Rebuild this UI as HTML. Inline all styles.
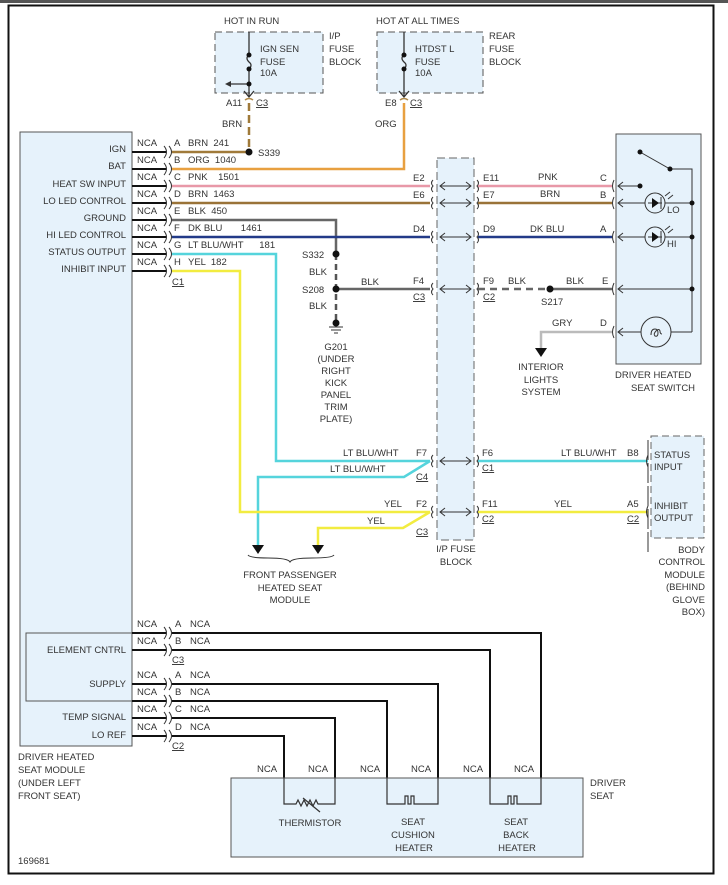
<!DOCTYPE html>
<html><head><meta charset="utf-8"><style>
html,body{margin:0;padding:0;background:#fff;}
svg{display:block;font-family:"Liberation Sans",Arial,sans-serif;font-size:9.5px;fill:#333;}
text{fill:#333;white-space:pre;}
</style></head><body>
<svg width="728" height="885" viewBox="0 0 728 885" xmlns="http://www.w3.org/2000/svg">
<rect x="0" y="0" width="728" height="3" fill="#555"/>
<rect x="8.5" y="5.5" width="705" height="868" fill="none" stroke="#111" stroke-width="2"/>

<!-- fuse blocks top -->
<rect x="215" y="32" width="108" height="61" fill="#e6f2fb" stroke="#555" stroke-dasharray="7,4"/>
<rect x="377" y="32" width="106" height="61" fill="#e6f2fb" stroke="#555" stroke-dasharray="7,4"/>
<text x="224" y="24">HOT IN RUN</text>
<text x="376" y="24">HOT AT ALL TIMES</text>
<text x="329" y="39">I/P</text><text x="329" y="52">FUSE</text><text x="329" y="65">BLOCK</text>
<text x="489" y="39">REAR</text><text x="489" y="52">FUSE</text><text x="489" y="65">BLOCK</text>
<text x="260" y="52">IGN SEN</text><text x="260" y="65">FUSE</text><text x="260" y="76">10A</text>
<text x="415" y="52">HTDST L</text><text x="415" y="65">FUSE</text><text x="415" y="76">10A</text>
<g stroke="#333" stroke-width="1.3" fill="none">
<path d="M249 32V55 M249 69V96 M249 55q-4 3 0 7q4 3 0 7"/>
<path d="M404 32V55 M404 69V96 M404 55q-4 3 0 7q4 3 0 7"/>
<path d="M249 84H230"/>
<path d="M244 91l5 6l5-6 M399 91l5 6l5-6"/>
</g>
<path d="M225 84l6-3v6z" fill="#333"/>
<g fill="#111"><circle cx="249" cy="55" r="2.5"/><circle cx="249" cy="69" r="2.5"/><circle cx="249" cy="84" r="2.5"/><circle cx="404" cy="55" r="2.5"/><circle cx="404" cy="69" r="2.5"/></g>
<path d="M245 100q4 -3 8 0 M400 100q4 -3 8 0" stroke="#b08a4a" stroke-width="1.5" fill="none"/>
<text x="226" y="106">A11</text><text x="256" y="106" text-decoration="underline">C3</text>
<text x="385" y="106">E8</text><text x="410" y="106" text-decoration="underline">C3</text>
<text x="222" y="127">BRN</text><text x="375" y="127">ORG</text>

<!-- module box -->
<rect x="20" y="132" width="112" height="614" fill="#e6f2fb" stroke="#555"/>
<rect x="26" y="633" width="106" height="68" fill="#e6f2fb" stroke="#555"/>
<g text-anchor="end">
<text x="126" y="152">IGN</text><text x="126" y="169">BAT</text><text x="126" y="187">HEAT SW INPUT</text>
<text x="126" y="204">LO LED CONTROL</text><text x="126" y="221">GROUND</text><text x="126" y="238">HI LED CONTROL</text>
<text x="126" y="255">STATUS OUTPUT</text><text x="126" y="272">INHIBIT INPUT</text>
<text x="126" y="653">ELEMENT CNTRL</text><text x="126" y="687">SUPPLY</text>
<text x="126" y="720">TEMP SIGNAL</text><text x="126" y="738">LO REF</text>
</g>
<text x="18" y="760">DRIVER HEATED</text><text x="18" y="773">SEAT MODULE</text><text x="18" y="786">(UNDER LEFT</text><text x="18" y="799">FRONT SEAT)</text>
<text x="18" y="864">169681</text>

<!-- top connector rows -->
<g stroke="#111" stroke-width="2">
<path d="M132 152H166M132 169H166M132 186H166M132 203H166M132 220H166M132 237H166M132 254H166M132 271H166"/>
</g>
<g stroke="#333" stroke-width="1" fill="none">
<path d="M164 146q5 6 0 12M169 146q5 6 0 12M164 163q5 6 0 12M169 163q5 6 0 12M164 180q5 6 0 12M169 180q5 6 0 12M164 197q5 6 0 12M169 197q5 6 0 12M164 214q5 6 0 12M169 214q5 6 0 12M164 231q5 6 0 12M169 231q5 6 0 12M164 248q5 6 0 12M169 248q5 6 0 12M164 265q5 6 0 12M169 265q5 6 0 12"/>
</g>
<g>
<text x="137" y="146">NCA</text><text x="137" y="163">NCA</text><text x="137" y="180">NCA</text><text x="137" y="197">NCA</text>
<text x="137" y="214">NCA</text><text x="137" y="231">NCA</text><text x="137" y="248">NCA</text><text x="137" y="265">NCA</text>
<text x="174" y="146">A</text><text x="174" y="163">B</text><text x="174" y="180">C</text><text x="174" y="197">D</text>
<text x="174" y="214">E</text><text x="174" y="231">F</text><text x="174" y="248">G</text><text x="174" y="265">H</text>
<text x="188" y="146">BRN  241</text><text x="188" y="163">ORG  1040</text><text x="188" y="180">PNK    1501</text><text x="188" y="197">BRN  1463</text>
<text x="188" y="214">BLK  450</text><text x="188" y="231">DK BLU       1461</text><text x="188" y="248">LT BLU/WHT      181</text><text x="188" y="265">YEL  182</text>
<text x="172" y="285" text-decoration="underline">C1</text>
</g>

<!-- wires -->
<g fill="none" stroke-width="2.5">
<path d="M172 152H249" stroke="#a07a3a"/>
<path d="M249 103V150" stroke="#a07a3a" stroke-dasharray="8,4"/>
<path d="M172 169H404V103" stroke="#e8a040"/>
<path d="M172 186H430M478 186H612" stroke="#e898a8"/>
<path d="M172 203H430M478 203H612" stroke="#9a7338"/>
<path d="M172 220H336V254" stroke="#666"/>
<path d="M336 254V322" stroke="#555" stroke-dasharray="6,4"/>
<path d="M172 237H430M478 237H612" stroke="#223a88"/>
<path d="M336 289H430" stroke="#666"/>
<path d="M478 289H550" stroke="#666" stroke-dasharray="7,5"/>
<path d="M550 289H612" stroke="#666"/>
<path d="M172 254H276V461H430M478 461H648" stroke="#55d4dc"/>
<path d="M430 461L404 477H258V545" stroke="#55d4dc"/>
<path d="M172 271H240V512H430M478 512H648" stroke="#f2ec40"/>
<path d="M430 512L403 528H318V545" stroke="#f2ec40"/>
<path d="M612 332H541V348" stroke="#bbb"/>
</g>
<g fill="#111"><circle cx="249" cy="152" r="3.5"/><circle cx="336" cy="254" r="3.5"/><circle cx="336" cy="289" r="3.5"/><circle cx="336" cy="323" r="3.5"/><circle cx="550" cy="289" r="3.5"/></g>
<path d="M329 327H343M331 330H341M334 333H338" stroke="#333"/>
<text x="258" y="156">S339</text>
<text x="302" y="258">S332</text><text x="309" y="275">BLK</text><text x="302" y="293">S208</text><text x="309" y="309">BLK</text>
<text x="361" y="285">BLK</text>
<g text-anchor="middle"><text x="336" y="350">G201</text><text x="336" y="362">(UNDER</text><text x="336" y="374">RIGHT</text><text x="336" y="386">KICK</text><text x="336" y="398">PANEL</text><text x="336" y="410">TRIM</text><text x="336" y="422">PLATE)</text></g>

<!-- central fuse block -->
<rect x="437" y="158" width="37" height="382" fill="#e6f2fb" stroke="#666" stroke-dasharray="8,4"/>
<g stroke="#333" fill="none" stroke-width="1">
<path d="M433 180q-3 3 0 6q-3 3 0 6M433 197q-3 3 0 6q-3 3 0 6M433 231q-3 3 0 6q-3 3 0 6M433 283q-3 3 0 6q-3 3 0 6M433 455q-3 3 0 6q-3 3 0 6M433 506q-3 3 0 6q-3 3 0 6"/>
<path d="M477 180q3 3 0 6q3 3 0 6M477 197q3 3 0 6q3 3 0 6M477 231q3 3 0 6q3 3 0 6M477 283q3 3 0 6q3 3 0 6M477 455q3 3 0 6q3 3 0 6M477 506q3 3 0 6q3 3 0 6"/>
<path d="M440 186H471M440 203H471M440 237H471M440 289H471M440 461H471M440 512H471"/>
<path d="M445 182l-5 4l5 4M466 182l5 4l-5 4M445 199l-5 4l5 4M466 199l5 4l-5 4M445 233l-5 4l5 4M466 233l5 4l-5 4M445 285l-5 4l5 4M466 285l5 4l-5 4M445 457l-5 4l5 4M466 457l5 4l-5 4M445 508l-5 4l5 4M466 508l5 4l-5 4"/>
</g>
<text x="413" y="181">E2</text><text x="413" y="198">E6</text><text x="413" y="232">D4</text><text x="413" y="284">F4</text><text x="413" y="300" text-decoration="underline">C3</text>
<text x="483" y="181">E11</text><text x="483" y="198">E7</text><text x="483" y="232">D9</text><text x="483" y="284">F9</text><text x="483" y="300" text-decoration="underline">C2</text>
<text x="416" y="456">F7</text><text x="416" y="480" text-decoration="underline">C4</text><text x="416" y="507">F2</text><text x="416" y="535" text-decoration="underline">C3</text>
<text x="482" y="456">F6</text><text x="482" y="471" text-decoration="underline">C1</text><text x="482" y="507">F11</text><text x="482" y="522" text-decoration="underline">C2</text>
<text x="343" y="456">LT BLU/WHT</text><text x="330" y="472">LT BLU/WHT</text><text x="384" y="507">YEL</text><text x="367" y="524">YEL</text>
<text x="456" y="552" text-anchor="middle">I/P FUSE</text><text x="456" y="565" text-anchor="middle">BLOCK</text>
<text x="538" y="180">PNK</text><text x="540" y="197">BRN</text><text x="530" y="232">DK BLU</text>
<text x="508" y="284">BLK</text><text x="566" y="284">BLK</text><text x="541" y="305">S217</text>
<text x="552" y="326">GRY</text>
<path d="M535 348h12l-6 9z" fill="#111"/>
<g text-anchor="middle"><text x="541" y="370">INTERIOR</text><text x="541" y="383">LIGHTS</text><text x="541" y="395">SYSTEM</text></g>

<!-- switch -->
<rect x="616" y="134" width="85" height="230" fill="#e6f2fb" stroke="#555"/>
<text x="600" y="181">C</text><text x="600" y="198">B</text><text x="600" y="232">A</text><text x="602" y="284">E</text><text x="600" y="326">D</text>
<g stroke="#333" fill="none" stroke-width="1">
<path d="M614 180q-3 6 0 12M614 197q-3 6 0 12M614 231q-3 6 0 12M614 283q-3 6 0 12M614 326q-3 6 0 12"/>
<path d="M618 186H640M618 203H692M618 237H692M618 289H692M618 332H692"/>
<path d="M623 182l-5 4l5 4M623 199l-5 4l5 4M623 233l-5 4l5 4M623 285l-5 4l5 4M623 328l-5 4l5 4"/>
<path d="M640 152L670 169H692V332"/>
<circle cx="655" cy="203" r="10" fill="#e6f2fb"/><circle cx="655" cy="237" r="10" fill="#e6f2fb"/>
<circle cx="656" cy="332" r="15" fill="#e6f2fb"/>
<path d="M648 203H662M648 237H662M661 197v12M661 231v12"/>
<path d="M651 335q0-6 4-6q3 0 3 4q0 4-3 3q-2-2 1-5q3-3 4 0q0 3 2 3"/>
<path d="M665 196l5-4M668 199l5-4M665 230l5-4M668 233l5-4"/>
</g>
<path d="M652 198l7 5l-7 5zM652 232l7 5l-7 5z" fill="#111"/>
<g fill="#111"><circle cx="640" cy="152" r="2.5"/><circle cx="670" cy="169" r="2.5"/><circle cx="640" cy="186" r="2.5"/><circle cx="692" cy="203" r="2.5"/><circle cx="692" cy="237" r="2.5"/><circle cx="692" cy="289" r="2.5"/></g>
<text x="667" y="213">LO</text><text x="667" y="247">HI</text>
<text x="615" y="378">DRIVER HEATED</text><text x="631" y="391">SEAT SWITCH</text>

<!-- BCM -->
<rect x="651" y="436" width="53" height="102" fill="#e6f2fb" stroke="#666" stroke-dasharray="7,4"/>
<path d="M648 455q-3 6 0 12M648 506q-3 6 0 12M648 440V552" stroke="#333" fill="none" stroke-dasharray="20,3"/>
<text x="654" y="458">STATUS</text><text x="654" y="470">INPUT</text><text x="654" y="509">INHIBIT</text><text x="654" y="521">OUTPUT</text>
<text x="627" y="456">B8</text><text x="627" y="507">A5</text><text x="627" y="522" text-decoration="underline">C2</text>
<text x="561" y="456">LT BLU/WHT</text><text x="554" y="507">YEL</text>
<g text-anchor="end"><text x="705" y="553">BODY</text><text x="705" y="565">CONTROL</text><text x="705" y="578">MODULE</text><text x="705" y="590">(BEHIND</text><text x="705" y="603">GLOVE</text><text x="705" y="615">BOX)</text></g>

<!-- passenger -->
<path d="M252 545h12l-6 9zM312 545h12l-6 9z" fill="#111"/>
<path d="M248 555q2 3 20 3q20 0 22 4q2-4 22-4q20 0 22-3" stroke="#333" fill="none"/>
<g text-anchor="middle"><text x="290" y="578">FRONT PASSENGER</text><text x="290" y="591">HEATED SEAT</text><text x="290" y="603">MODULE</text></g>

<!-- bottom wires -->
<g stroke="#111" stroke-width="2" fill="none">
<path d="M132 633H166M132 650H166M132 684H166M132 701H166M132 718H166M132 736H166"/>
<path d="M172 633H541V800M172 650H490V800M172 684H438V800M172 701H387V800M172 718H335V800M172 736H284V800"/>
</g>
<g stroke="#333" stroke-width="1" fill="none">
<path d="M164 627q5 6 0 12M169 627q5 6 0 12M164 644q5 6 0 12M169 644q5 6 0 12M164 678q5 6 0 12M169 678q5 6 0 12M164 695q5 6 0 12M169 695q5 6 0 12M164 712q5 6 0 12M169 712q5 6 0 12M164 730q5 6 0 12M169 730q5 6 0 12"/>
</g>
<text x="137" y="627">NCA</text><text x="137" y="644">NCA</text><text x="137" y="678">NCA</text><text x="137" y="695">NCA</text><text x="137" y="712">NCA</text><text x="137" y="730">NCA</text>
<text x="175" y="627">A</text><text x="175" y="644">B</text><text x="175" y="678">A</text><text x="175" y="695">B</text><text x="175" y="712">C</text><text x="175" y="730">D</text>
<text x="190" y="627">NCA</text><text x="190" y="644">NCA</text><text x="190" y="678">NCA</text><text x="190" y="695">NCA</text><text x="190" y="712">NCA</text><text x="190" y="730">NCA</text>
<text x="172" y="663" text-decoration="underline">C3</text><text x="172" y="749" text-decoration="underline">C2</text>

<!-- driver seat -->
<rect x="231" y="778" width="352" height="79" fill="#e6f2fb" stroke="#555"/>
<g stroke="#333" stroke-width="1.2" fill="none">
<path d="M284 778V804H296l2-4l3 6l3-6l3 6l3-6l3 6l3-6l2 4H335V778"/>
<path d="M303 798l17 14"/>
<path d="M387 778V804H405V796h3v8h3v-8h3v8H438V778"/>
<path d="M490 778V804H508V796h3v8h3v-8h3v8H541V778"/>
</g>
<g text-anchor="middle">
<text x="267" y="772">NCA</text><text x="318" y="772">NCA</text><text x="370" y="772">NCA</text><text x="421" y="772">NCA</text><text x="473" y="772">NCA</text><text x="524" y="772">NCA</text>
<text x="310" y="826">THERMISTOR</text>
<text x="413" y="825">SEAT</text><text x="413" y="838">CUSHION</text><text x="414" y="851">HEATER</text>
<text x="516" y="825">SEAT</text><text x="516" y="838">BACK</text><text x="517" y="851">HEATER</text>
</g>
<text x="590" y="786">DRIVER</text><text x="590" y="799">SEAT</text>
</svg>
</body></html>
